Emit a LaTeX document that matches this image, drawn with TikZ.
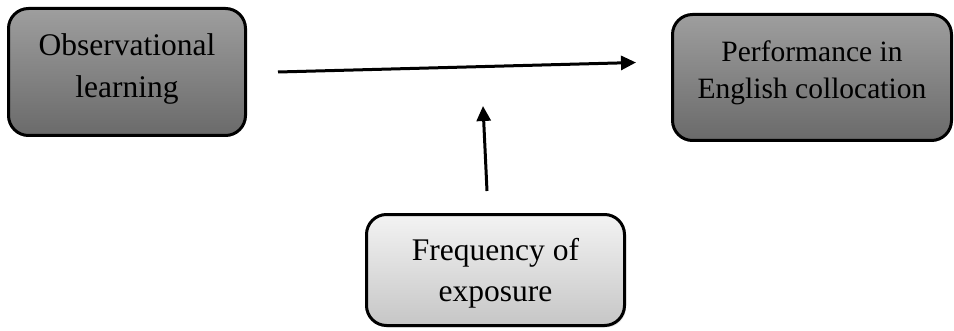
\documentclass[tikz,border=0pt]{standalone}
\usepackage{fontspec}
\setmainfont{Liberation Serif}
\usetikzlibrary{arrows.meta,shadows,calc}
\definecolor{darktop}{RGB}{158,158,158}
\definecolor{darkbot}{RGB}{106,106,106}
\definecolor{lighttop}{RGB}{243,243,243}
\definecolor{lightbot}{RGB}{198,198,198}
\tikzset{
	box/.style={draw=black, line width=3pt, rounded corners=20pt, align=center, inner sep=0pt},
	darkbox/.style={box, top color=darktop, bottom color=darkbot},
	lightbox/.style={box, top color=lighttop, bottom color=lightbot,
		drop shadow={opacity=0.2, shadow xshift=1.5pt, shadow yshift=-2pt}},
	link/.style={line width=3pt, -{Triangle[length=15pt,width=14pt]}}
}

\begin{document}
\begin{tikzpicture}[x=1pt,y=1pt]
	\useasboundingbox (0,0) rectangle (954,330);
	\node[darkbox, minimum width=237pt, minimum height=127pt, text depth=13pt, font=\fontsize{31.5}{42}\selectfont] (obs) at (127,258) {Observational\\learning};
	\node[darkbox, minimum width=279pt, minimum height=126pt, text depth=16pt, font=\fontsize{29.5}{37}\selectfont] (perf) at (812,252.5) {Performance in\\English collocation};
	\node[lightbox, minimum width=258pt, minimum height=111pt, text depth=0pt, font=\fontsize{31.5}{41}\selectfont] (freq) at (495.5,60) {Frequency of\\exposure};

	\coordinate (hstart) at ($(obs.east)+(31,0)$);
	\coordinate (hend) at ($(perf.west)+(-35,15)$);
	\coordinate (vstart) at ($(freq.north)+(-8.5,22)$);
	\coordinate (vend) at ($(freq.north)+(-12.5,107)$);
	\draw[link] (hstart) -- (hend);
	\draw[link] (vstart) -- (vend);
\end{tikzpicture}
\end{document}
